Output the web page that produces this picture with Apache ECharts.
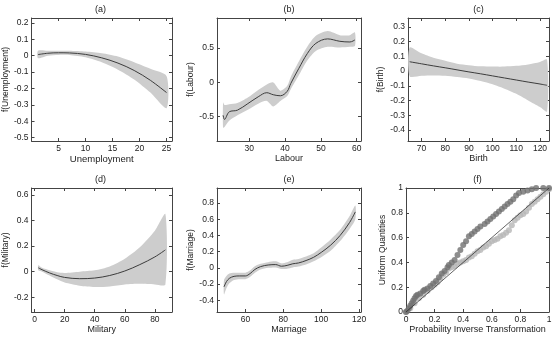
<!DOCTYPE html>
<html>
<head>
<meta charset="utf-8">
<script src="https://cdn.jsdelivr.net/npm/echarts@6/dist/echarts.min.js"></script>
</head>
<body style="margin:0">
<div id="main" style="width:556px;height:344px;"></div>
<script>
// (a) Unemployment
var unempX   = [1.2, 3, 5, 7, 10, 13, 16, 19, 22, 25];
var unempFit = [0.007, 0.015, 0.018, 0.017, 0.008, -0.013, -0.045, -0.09, -0.15, -0.225];
var unempLo  = [-0.015, 0.0, 0.005, 0.004, -0.01, -0.04, -0.085, -0.145, -0.225, -0.32];
var unempHi  = [0.03, 0.03, 0.03, 0.03, 0.025, 0.015, -0.005, -0.04, -0.08, -0.125];
var unempXTicks = [5, 10, 15, 20, 25];
var unempYTicks = [-0.5, -0.4, -0.3, -0.2, -0.1, 0, 0.1, 0.2];

// (b) Labour
var labX   = [22.7, 23.1, 24.4, 26.7, 29.6, 32.5, 34.9, 36.7, 38.7, 40.6, 41.6, 43.8, 46.2, 48.6, 51.9, 55.3, 58.1, 59.5];
var labFit = [-0.48, -0.54, -0.43, -0.405, -0.31, -0.21, -0.15, -0.18, -0.195, -0.13, -0.015, 0.2, 0.42, 0.57, 0.635, 0.6, 0.59, 0.62];
var labLo  = [-0.66, -0.65, -0.56, -0.48, -0.4, -0.31, -0.27, -0.35, -0.27, -0.2, -0.1, 0.1, 0.32, 0.46, 0.52, 0.51, 0.52, 0.53];
var labHi  = [-0.29, -0.33, -0.32, -0.3, -0.22, -0.11, -0.03, 0.0, -0.12, -0.05, 0.08, 0.3, 0.52, 0.68, 0.75, 0.69, 0.69, 0.73];
var labXTicks = [30, 40, 50, 60];
var labYTicks = [-0.5, 0, 0.5];

// (c) Birth
var birthX   = [65, 70, 75, 80, 85, 90, 95, 100, 105, 110, 115, 120, 123];
var birthFit = [0.063, 0.049, 0.035, 0.022, 0.008, -0.006, -0.019, -0.033, -0.047, -0.061, -0.075, -0.088, -0.097];
var birthLo  = [-0.035, -0.032, -0.03, -0.032, -0.04, -0.05, -0.068, -0.09, -0.12, -0.155, -0.2, -0.245, -0.275];
var birthHi  = [0.16, 0.12, 0.09, 0.07, 0.05, 0.04, 0.032, 0.03, 0.03, 0.035, 0.045, 0.062, 0.077];
var birthXTicks = [70, 80, 90, 100, 110, 120];
var birthYTicks = [-0.4, -0.3, -0.2, -0.1, 0, 0.1, 0.2, 0.3];

// (d) Military
var milX   = [2.5, 5, 10, 15, 20, 30, 40, 50, 60, 70, 80, 87];
var milFit = [0.03, 0.015, -0.01, -0.03, -0.045, -0.055, -0.05, -0.03, 0.005, 0.055, 0.115, 0.17];
var milLo  = [0.01, 0.0, -0.03, -0.06, -0.085, -0.11, -0.12, -0.115, -0.1, -0.095, -0.1, -0.1];
var milHi  = [0.05, 0.03, 0.01, -0.005, -0.01, 0.0, 0.01, 0.04, 0.1, 0.19, 0.32, 0.45];
var milXTicks = [0, 20, 40, 60, 80];
var milYTicks = [-0.2, 0, 0.2, 0.4, 0.6];

// (e) Marriage
var marX   = [48.7, 50, 51.5, 54, 57, 60, 62.5, 65, 68, 72, 76, 79, 82, 85, 88, 92, 96, 100, 105, 110, 115, 118];
var marFit = [-0.235, -0.17, -0.13, -0.105, -0.1, -0.1, -0.07, -0.02, 0.015, 0.035, 0.04, 0.02, 0.03, 0.05, 0.06, 0.09, 0.13, 0.19, 0.28, 0.4, 0.56, 0.69];
var marLo  = [-0.33, -0.25, -0.19, -0.15, -0.14, -0.14, -0.11, -0.06, -0.02, 0.0, 0.005, -0.015, -0.01, 0.005, 0.015, 0.04, 0.08, 0.13, 0.21, 0.33, 0.48, 0.6];
var marHi  = [-0.15, -0.1, -0.07, -0.06, -0.06, -0.06, -0.03, 0.02, 0.05, 0.07, 0.08, 0.055, 0.07, 0.1, 0.11, 0.14, 0.18, 0.25, 0.35, 0.47, 0.64, 0.77];
var marXTicks = [60, 80, 100, 120];
var marYTicks = [-0.4, -0.2, 0, 0.2, 0.4, 0.6, 0.8];

// (f) PIT vs uniform quantiles
var pitDark = [[0.00,0.00],[0.01,0.01],[0.02,0.03],[0.03,0.05],[0.04,0.07],[0.05,0.09],[0.06,0.11],[0.07,0.13],[0.08,0.14],[0.10,0.15],
  [0.12,0.17],[0.13,0.18],[0.15,0.19],[0.17,0.21],[0.19,0.23],[0.21,0.25],[0.23,0.28],[0.25,0.31],[0.27,0.33],[0.29,0.36],
  [0.30,0.38],[0.32,0.40],[0.34,0.42],[0.36,0.46],[0.38,0.50],[0.40,0.54],[0.42,0.57],[0.44,0.61],[0.46,0.63],[0.48,0.65],
  [0.50,0.67],[0.52,0.69],[0.55,0.71],[0.57,0.73],[0.59,0.75],[0.61,0.77],[0.63,0.79],[0.65,0.81],[0.67,0.83],[0.69,0.85],
  [0.71,0.87],[0.73,0.89],[0.75,0.91],[0.77,0.94],[0.79,0.96],[0.82,0.97],[0.85,0.98],[0.88,0.99],[0.91,1.00],[0.96,1.00],[1.00,1.00]];
var pitLight = [[0.00,0.00],[0.03,0.03],[0.06,0.07],[0.09,0.11],[0.12,0.14],[0.15,0.17],[0.18,0.20],[0.20,0.22],[0.22,0.24],[0.24,0.27],
  [0.26,0.30],[0.28,0.32],[0.30,0.35],[0.32,0.36],[0.34,0.37],[0.36,0.39],[0.38,0.40],[0.40,0.41],[0.42,0.42],[0.44,0.44],
  [0.46,0.45],[0.48,0.47],[0.50,0.49],[0.52,0.50],[0.54,0.52],[0.56,0.53],[0.58,0.55],[0.60,0.57],[0.62,0.58],[0.64,0.59],
  [0.66,0.61],[0.68,0.62],[0.70,0.64],[0.72,0.66],[0.74,0.70],[0.76,0.74],[0.78,0.76],[0.80,0.78],[0.82,0.79],[0.84,0.81],
  [0.86,0.84],[0.88,0.87],[0.90,0.89],[0.92,0.91],[0.94,0.93],[0.96,0.95],[0.98,0.97],[1.00,0.99]];
var diagLine = [[0, 0], [1, 1]];
var pitTicks = [0, 0.2, 0.4, 0.6, 0.8, 1];

var FONT = 'Liberation Sans';
var TXT = '#222';
var AX = '#444';

var panels = [
  {title: '(a)', rect: [29, 18, 143, 123], xr: [0, 26], yr: [-0.52, 0.23], xt: unempXTicks, yt: unempYTicks,
   xname: 'Unemployment', yname: 'f(Unemployment)', ygap: 18, xgap: 9, xfs: 9.5},
  {title: '(b)', rect: [217, 18, 144, 123], xr: [21, 61.2], yr: [-0.855, 0.94], xt: labXTicks, yt: labYTicks,
   xname: 'Labour', yname: 'f(Labour)', ygap: 20, xgap: 9, xfs: 9},
  {title: '(c)', rect: [408, 18, 141, 123], xr: [64.3, 123.8], yr: [-0.475, 0.36], xt: birthXTicks, yt: birthYTicks,
   xname: 'Birth', yname: 'f(Birth)', ygap: 23, xgap: 9, xfs: 9},
  {title: '(d)', rect: [29, 188, 143, 124], xr: [-2, 91.4], yr: [-0.315, 0.653], xt: milXTicks, yt: milYTicks,
   xname: 'Military', yname: 'f(Military)', ygap: 18, xgap: 10, xfs: 9},
  {title: '(e)', rect: [217, 188, 144, 124], xr: [45, 121], yr: [-0.545, 0.985], xt: marXTicks, yt: marYTicks,
   xname: 'Marriage', yname: 'f(Marriage)', ygap: 22, xgap: 10, xfs: 9},
  {title: '(f)', rect: [406, 188, 143, 124], xr: [0, 1], yr: [0, 1], xt: pitTicks, yt: pitTicks,
   xname: 'Probability Inverse Transformation', yname: 'Uniform Quantities', ygap: 16, xgap: 13, xfs: 9}
];

var grids = [], xAxes = [], yAxes = [], graphics = [];
panels.forEach(function (p, k) {
  grids.push({left: p.rect[0], top: p.rect[1], width: p.rect[2], height: p.rect[3], containLabel: false});
  ['bottom', 'top'].forEach(function (pos, j) {
    xAxes.push({
      type: 'value', gridIndex: k, position: pos, min: p.xr[0], max: p.xr[1],
      name: j === 0 ? p.xname : '', nameLocation: 'middle', nameGap: p.xgap,
      nameTextStyle: {fontFamily: FONT, fontSize: p.xfs, color: TXT},
      axisLine: {show: true, onZero: false, lineStyle: {color: AX, width: 1}},
      axisTick: {show: true, inside: true, length: 3, customValues: p.xt, lineStyle: {color: AX}},
      axisLabel: {show: j === 0, margin: 3, customValues: p.xt, fontFamily: FONT, fontSize: 8.5, color: TXT},
      splitLine: {show: false}
    });
  });
  ['left', 'right'].forEach(function (pos, j) {
    yAxes.push({
      type: 'value', gridIndex: k, position: pos, min: p.yr[0], max: p.yr[1],
      name: j === 0 ? p.yname : '', nameLocation: 'middle', nameGap: p.ygap,
      nameTextStyle: {fontFamily: FONT, fontSize: 8.5, color: TXT},
      axisLine: {show: true, onZero: false, lineStyle: {color: AX, width: 1}},
      axisTick: {show: true, inside: true, length: 3, customValues: p.yt, lineStyle: {color: AX}},
      axisLabel: {show: j === 0, margin: 3, customValues: p.yt, fontFamily: FONT, fontSize: 8.5, color: TXT},
      splitLine: {show: false}
    });
  });
  graphics.push({
    type: 'text', x: p.rect[0] + p.rect[2] / 2, y: p.rect[1] - 8,
    style: {text: p.title, textAlign: 'center', textVerticalAlign: 'middle', font: '9px "Liberation Sans"', fill: TXT}
  });
});

function band(k, xs, lo, hi) {
  return {
    type: 'custom', xAxisIndex: 2 * k, yAxisIndex: 2 * k, clip: true, silent: true, z: 1,
    data: xs.map(function (x, i) { return [x, lo[i], hi[i]]; }),
    encode: {x: 0, y: [1, 2]},
    renderItem: function (params, api) {
      if (params.dataIndex !== 0) return null;
      var pts = [];
      for (var i = 0; i < xs.length; i++) pts.push(api.coord([xs[i], hi[i]]));
      for (var j = xs.length - 1; j >= 0; j--) pts.push(api.coord([xs[j], lo[j]]));
      return {type: 'polygon', shape: {points: pts, smooth: 0.25}, style: {fill: '#cdcdcd'}};
    }
  };
}
function fit(k, xs, ys) {
  return {
    type: 'line', xAxisIndex: 2 * k, yAxisIndex: 2 * k, z: 3, silent: true,
    data: xs.map(function (x, i) { return [x, ys[i]]; }),
    smooth: 0.35, showSymbol: false, lineStyle: {color: '#3c3c3c', width: 1}
  };
}

var series = [
  band(0, unempX, unempLo, unempHi), fit(0, unempX, unempFit),
  band(1, labX, labLo, labHi), fit(1, labX, labFit),
  band(2, birthX, birthLo, birthHi), fit(2, birthX, birthFit),
  band(3, milX, milLo, milHi), fit(3, milX, milFit),
  band(4, marX, marLo, marHi), fit(4, marX, marFit),
  {type: 'scatter', xAxisIndex: 10, yAxisIndex: 10, data: pitLight, symbolSize: 6,
   itemStyle: {color: '#b6b6b6'}, silent: true},
  {type: 'scatter', xAxisIndex: 10, yAxisIndex: 10, data: pitDark, symbolSize: 6,
   itemStyle: {color: '#707070'}, silent: true},
  {type: 'line', xAxisIndex: 10, yAxisIndex: 10, data: diagLine, showSymbol: false, silent: true,
   lineStyle: {color: '#222', width: 0.7}, z: 4}
];

var chart = echarts.init(document.getElementById('main'), null, {renderer: 'canvas'});
chart.setOption({
  animation: false,
  backgroundColor: '#fff',
  grid: grids,
  xAxis: xAxes,
  yAxis: yAxes,
  graphic: graphics,
  series: series
});
</script>
</body>
</html>
